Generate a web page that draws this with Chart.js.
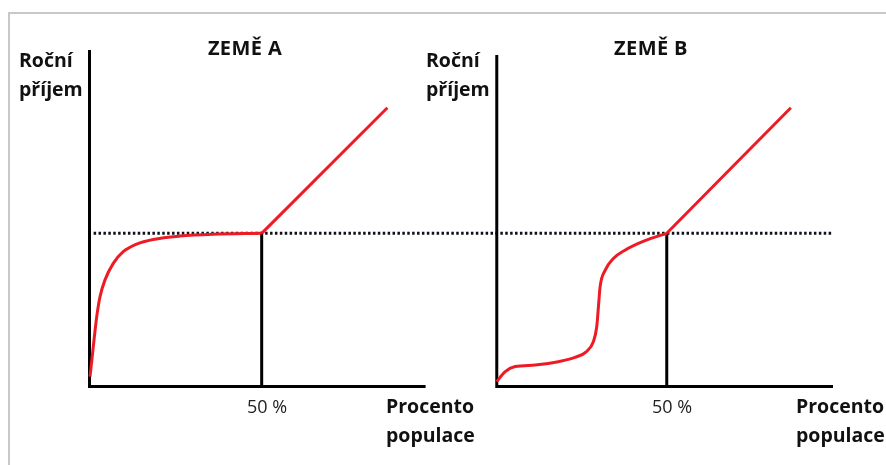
<!DOCTYPE html>
<html>
<head>
<meta charset="utf-8">
<script src="https://cdn.jsdelivr.net/npm/chart.js@4.4.1/dist/chart.umd.min.js"></script>
<style>
  body { margin: 0; background: #fff; }
  #wrap { position: relative; width: 886px; height: 465px; overflow: hidden; }
  #chart { position: absolute; left: 0; top: 0; }
  .frame { position: absolute; left: 8px; top: 12px; width: 900px; height: 470px;
           border-top: 2px solid #c8c8c8; border-left: 2px solid #c8c8c8; }
  .lbl { position: absolute; font-family: "Open Sans", sans-serif; font-weight: 700;
         font-size: 19.5px; line-height: 29px; color: #111; white-space: nowrap; }
  .title { text-align: center; width: 120px; font-size: 20px; letter-spacing: 0.4px; }
  .tick { font-weight: 400; font-size: 18px; color: #222; }
</style>
</head>
<body>
<div id="wrap">
  <div class="frame"></div>
  <canvas id="chart" width="886" height="465"></canvas>

  <div class="lbl" style="left:19px; top:44.6px;">Roční<br>příjem</div>
  <div class="lbl title" style="left:185px; top:32.7px;">ZEMĚ A</div>
  <div class="lbl tick" style="left:247px; top:392px;">50 %</div>
  <div class="lbl" style="left:386px; top:392.4px; line-height:28.5px;">Procento<br>populace</div>

  <div class="lbl" style="left:426px; top:44.6px;">Roční<br>příjem</div>
  <div class="lbl title" style="left:591px; top:32.7px;">ZEMĚ B</div>
  <div class="lbl tick" style="left:652px; top:392px;">50 %</div>
  <div class="lbl" style="left:796px; top:392.4px; line-height:28.5px;">Procento<br>populace</div>
</div>

<script>
// percent of population (x) vs yearly income (y)

// country A: income rises fast, then flat up to the 50 % line
const popA = [0.15, 1.1, 2.1, 3.05, 4.5, 6.9, 9.8, 13.7, 18.5, 26.3, 35.9, 50];
const incomeA = [3.2, 13.0, 22.8, 29.3, 34.8, 40.2, 44.0, 46.5, 48.0, 49.1, 49.7, 50];

// country B: low plateau, steep step, then up to the 50 % line
const popB = [0, 2.4, 5.4, 11.3, 18.1, 23.0, 26.4, 28.4, 29.4, 29.9, 30.4, 31.9, 34.3, 37.7, 43.6, 50];
const incomeB = [1.6, 4.8, 6.5, 7.0, 8.1, 9.5, 11.4, 14.6, 19.5, 26.0, 32.6, 38.0, 41.8, 44.5, 47.6, 50];

// straight top part above the median (same for both countries)
const topPop = [50, 86.5];
const topIncome = [50, 91];

// median level and the axes of each panel
const medianPop = 50;
const medianIncome = 50;
const axisTopA = 109.8;
const axisTopB = 108.2;
const axisEndA = 97.6;
const axisEndB = 98.9;

const toPoints = (xs, ys) => xs.map((x, i) => ({ x: x, y: ys[i] }));

const RED = "#ed1c24";
const BLACK = "#000";

const lineStyle = (color, width) => ({
  borderColor: color,
  backgroundColor: color,
  borderWidth: width,
  pointRadius: 0,
  fill: false,
  clip: false,
  borderJoinStyle: "miter",
  borderCapStyle: "butt",
});

const ctx = document.getElementById("chart").getContext("2d");

const myChart = new Chart(ctx, {
  type: "line",
  data: {
    datasets: [
      // red income curves
      { ...lineStyle(RED, 3), xAxisID: "xA", data: toPoints(popA, incomeA), cubicInterpolationMode: "monotone", order: 1 },
      { ...lineStyle(RED, 3), xAxisID: "xA", data: toPoints(topPop, topIncome), tension: 0, order: 1 },
      { ...lineStyle(RED, 3), xAxisID: "xB", data: toPoints(popB, incomeB), cubicInterpolationMode: "monotone", order: 1 },
      { ...lineStyle(RED, 3), xAxisID: "xB", data: toPoints(topPop, topIncome), tension: 0, order: 1 },
      // axes and median lines
      { ...lineStyle(BLACK, 3), xAxisID: "xA", data: [{ x: 0, y: axisTopA }, { x: 0, y: 0 }, { x: axisEndA, y: 0 }], order: 2 },
      { ...lineStyle(BLACK, 3), xAxisID: "xB", data: [{ x: 0, y: axisTopB }, { x: 0, y: 0 }, { x: axisEndB, y: 0 }], order: 2 },
      { ...lineStyle(BLACK, 3), xAxisID: "xA", data: [{ x: medianPop, y: 0 }, { x: medianPop, y: medianIncome }], order: 2 },
      { ...lineStyle(BLACK, 3), xAxisID: "xB", data: [{ x: medianPop, y: 0 }, { x: medianPop, y: medianIncome }], order: 2 },
      // dotted median income across both panels
      { ...lineStyle("#10101c", 3), xAxisID: "xA", borderDash: [2.5, 2.4], data: [{ x: 1.2, y: medianIncome }, { x: 215.9, y: medianIncome }], order: 3 },
    ],
  },
  options: {
    responsive: false,
    animation: false,
    events: [],
    layout: {
      padding: { left: 89.5, right: 53, top: 49.5, bottom: 78.5 },
    },
    plugins: {
      legend: { display: false },
      tooltip: { enabled: false },
    },
    scales: {
      // both x scales span the whole width, each one puts 0..100 % under its own panel
      xA: { type: "linear", display: false, min: 0, max: 215.9 },
      xB: { type: "linear", display: false, min: -119.8, max: 98.9 },
      y: { type: "linear", display: false, min: 0, max: 110 },
    },
  },
});
</script>
</body>
</html>
